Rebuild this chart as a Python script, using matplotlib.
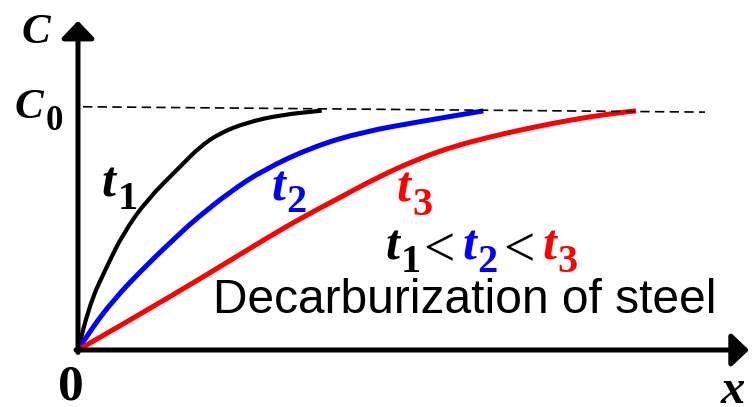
import matplotlib
matplotlib.use("Agg")
import matplotlib.pyplot as plt
from matplotlib.path import Path
from matplotlib.patches import PathPatch

# Carbon profiles C(x) at three times, C normalised to C0 = 1, depth x in arbitrary units
x_t1 = [0, 0.103, 0.287, 0.453, 0.687, 1.02, 1.22, 1.42, 1.687, 2.02, 2.437]
c_t1 = [0, 0.178, 0.343, 0.480, 0.617, 0.754, 0.837, 0.893, 0.936, 0.967, 0.985]

x_t2 = [0, 0.103, 0.353, 0.67, 1.02, 1.187, 1.52, 1.853, 2.353, 2.853, 3.42, 4.053]
c_t2 = [0, 0.069, 0.206, 0.343, 0.480, 0.542, 0.651, 0.741, 0.837, 0.898, 0.940, 0.984]

x_t3 = [0, 0.59, 1.25, 1.92, 2.25, 2.59, 3.02, 3.42, 3.75, 4.09, 4.42, 4.75, 5.09, 5.42, 5.58]
c_t3 = [0, 0.140, 0.300, 0.469, 0.547, 0.621, 0.716, 0.789, 0.837, 0.874, 0.905, 0.933,
        0.958, 0.977, 0.984]

# C0 reference level (drawn as a dashed guide)
c0_x = [0.05, 6.27]
c0_y = [1.001, 0.979]

# axis extents
x_tip = 6.71
c_tip = 1.355

W, H = 756, 407
fig = plt.figure(figsize=(W / 100, H / 100), dpi=100)
ax = fig.add_axes([78 / W, (H - 350) / H, 700 / W, 350 / H])
ax.set_xlim(0, 7.0)
ax.set_ylim(0, 350 / 243)
ax.axis("off")

# axes with arrow heads
arrow = dict(arrowstyle="-|>,head_length=1.05,head_width=1.0", color="black",
             lw=3.6, mutation_scale=10, shrinkA=0, shrinkB=0)
ax.annotate("", xy=(x_tip, 0), xytext=(-0.02, 0), arrowprops=arrow, annotation_clip=False)
ax.annotate("", xy=(0, c_tip), xytext=(0, -0.01), arrowprops=arrow, annotation_clip=False)

ax.plot(c0_x, c0_y, color="black", lw=1.2, ls=(0, (5.6, 3.2)), clip_on=False)


def smooth_curve(xs, ys, color, lw):
    """Draw a profile as a chain of quadratic Beziers through segment midpoints."""
    verts = [(xs[0], ys[0])]
    codes = [Path.MOVETO]
    for i in range(1, len(xs) - 1):
        verts += [(xs[i], ys[i]), ((xs[i] + xs[i + 1]) / 2, (ys[i] + ys[i + 1]) / 2)]
        codes += [Path.CURVE3, Path.CURVE3]
    verts.append((xs[-1], ys[-1]))
    codes.append(Path.LINETO)
    ax.add_patch(PathPatch(Path(verts, codes), fill=False, edgecolor=color, lw=lw,
                           capstyle="butt", joinstyle="round", clip_on=False))


smooth_curve(x_t1, c_t1, "black", 3.0)
smooth_curve(x_t2, c_t2, "#0000ff", 3.6)
smooth_curve(x_t3, c_t3, "#ff0000", 3.6)


def label(px, py, s, size, color="black", style="italic", weight="bold",
          family="Liberation Serif"):
    """Place text with its left edge at px and its baseline at py (pixels from top-left)."""
    fig.text(px / W, 1 - py / H, s, fontsize=size, color=color, fontstyle=style,
             fontweight=weight, family=family, ha="left", va="baseline")


# axis labels
label(22, 43.3, "C", 31)
label(15, 118.3, "C", 31)
label(46, 130, "0", 25, style="normal")
label(58, 400, "0", 37, style="normal")
label(721, 403, "x", 35)

# curve labels
label(101, 196.7, "t", 36)
label(118, 209.3, "1", 29, style="normal")
label(271, 200, "t", 36, color="#0000ff")
label(286, 211.7, "2", 29, color="#0000ff", style="normal")
label(396, 201.7, "t", 36, color="#ff0000")
label(412, 215, "3", 29, color="#ff0000", style="normal")

# t1 < t2 < t3
label(385, 260, "t", 36)
label(401, 271.7, "1", 29, style="normal")
label(423, 266, "<", 40, style="normal", weight="normal")
label(462, 260, "t", 36, color="#0000ff")
label(477, 271.7, "2", 29, color="#0000ff", style="normal")
label(503, 266, "<", 40, style="normal", weight="normal")
label(542, 260, "t", 36, color="#ff0000")
label(557, 271.7, "3", 29, color="#ff0000", style="normal")

label(213, 313.3, "Decarburization of steel", 34.5, style="normal", weight="normal",
      family="Liberation Sans")

fig.savefig("out.png", dpi=100)
